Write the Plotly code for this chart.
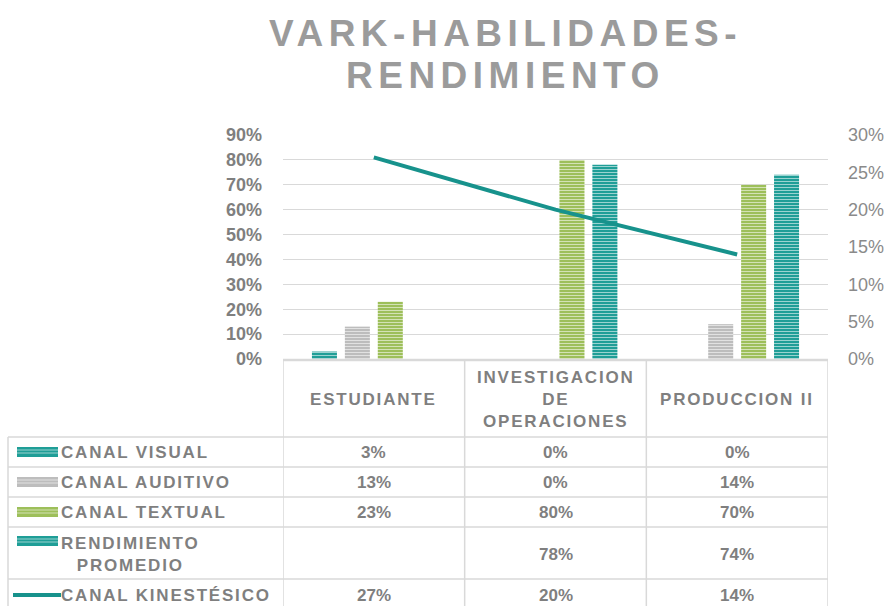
import plotly.graph_objects as go

# datos del grafico
categorias = ["ESTUDIANTE", "INVESTIGACION<br>DE<br>OPERACIONES", "PRODUCCION II"]
canal_visual = [0.03, 0.00, 0.00]
canal_auditivo = [0.13, 0.00, 0.14]
canal_textual = [0.23, 0.80, 0.70]
rendimiento_promedio = [None, 0.78, 0.74]
canal_kinestesico = [0.27, 0.20, 0.14]

series_barras = [
    ("CANAL VISUAL", canal_visual, "#1f9e97"),
    ("CANAL AUDITIVO", canal_auditivo, "#bdbdbd"),
    ("CANAL TEXTUAL", canal_textual, "#9dbf5a"),
    ("RENDIMIENTO<br>PROMEDIO", rendimiento_promedio, "#1f9e97"),
]
color_linea = "#17928c"

ticks_izq = [0, 0.1, 0.2, 0.3, 0.4, 0.5, 0.6, 0.7, 0.8, 0.9]
ticks_der = [0, 0.05, 0.10, 0.15, 0.20, 0.25, 0.30]

FONT = "Arial, Liberation Sans, sans-serif"
GRIS = "#7f7f7f"
BORDE = "#d9d9d9"

W, H = 887, 606
# caja del grafico en pixeles de la imagen
L, R, T, B = 283, 828, 135, 359


def px_x(px):
    return (px - L) / (R - L)


def px_y(py):
    return (B - py) / (B - T)


def espaciado(txt, s):
    return "<span style='letter-spacing:%spx'>%s</span>" % (s, txt)


fig = go.Figure()

for nombre, valores, color in series_barras:
    fig.add_trace(go.Bar(
        x=list(range(len(categorias))),
        y=valores,
        name=nombre,
        marker=dict(
            color=color,
            line=dict(width=0),
            pattern=dict(shape="-", size=3, solidity=0.35,
                         fgcolor="white", fgopacity=0.55, fillmode="overlay"),
        ),
        showlegend=False,
    ))

fig.add_trace(go.Scatter(
    x=list(range(len(categorias))),
    y=canal_kinestesico,
    mode="lines",
    name="CANAL KINESTÉSICO",
    line=dict(color=color_linea, width=4),
    yaxis="y2",
    showlegend=False,
))

shapes = []
annotations = []

# titulo
for linea, yy in (("VARK-HABILIDADES-", 33), ("RENDIMIENTO", 76)):
    annotations.append(dict(
        text=espaciado("<b>%s</b>" % linea, 5.5), x=px_x(505), y=px_y(yy),
        xref="paper", yref="paper", showarrow=False, xanchor="center", yanchor="middle",
        font=dict(family=FONT, size=37, color="#9b9b9b"),
    ))

# tabla de datos
filas_y = [360, 437, 467, 497, 527, 579, 612]
x_izq = 8

# borde superior de la cabecera
shapes.append(dict(type="line", xref="x", yref="paper", x0=-0.5, x1=2.5,
                   y0=px_y(filas_y[0]), y1=px_y(filas_y[0]),
                   line=dict(color=BORDE, width=2.5)))
for yy in filas_y[1:]:
    shapes.append(dict(type="line", xref="paper", yref="paper", x0=px_x(x_izq), x1=1,
                       y0=px_y(yy), y1=px_y(yy), line=dict(color=BORDE, width=1.5)))
for k in range(len(categorias) + 1):
    shapes.append(dict(type="line", xref="x", yref="paper", x0=k - 0.5, x1=k - 0.5,
                       y0=px_y(filas_y[0]), y1=px_y(filas_y[-1]),
                       line=dict(color=BORDE, width=1.5)))
shapes.append(dict(type="line", xref="paper", yref="paper", x0=px_x(x_izq), x1=px_x(x_izq),
                   y0=px_y(filas_y[1]), y1=px_y(filas_y[-1]),
                   line=dict(color=BORDE, width=1.5)))

# cabecera con categorias
for i, c in enumerate(categorias):
    annotations.append(dict(
        text=espaciado("<b>%s</b>" % c, 1.8), x=i, y=px_y(399), xref="x", yref="paper",
        showarrow=False, xanchor="center", yanchor="middle",
        font=dict(family=FONT, size=17, color=GRIS),
    ))

# filas: clave, nombre y valores
nombres = [s[0] for s in series_barras] + ["CANAL KINESTÉSICO"]
valores_filas = [s[1] for s in series_barras] + [canal_kinestesico]
colores = [s[2] for s in series_barras] + [color_linea]
centros = [452, 482, 512, 554, 595]
for j, (nom, vals, col, cy) in enumerate(zip(nombres, valores_filas, colores, centros)):
    ky = 541 if "<br>" in nom else cy
    if j < 4:
        shapes.append(dict(type="rect", xref="paper", yref="paper",
                           x0=px_x(17), x1=px_x(58), y0=px_y(ky - 5), y1=px_y(ky + 5),
                           fillcolor=col, line=dict(width=0)))
        for d in (-2, 1):
            shapes.append(dict(type="line", xref="paper", yref="paper",
                               x0=px_x(17), x1=px_x(58), y0=px_y(ky + d), y1=px_y(ky + d),
                               line=dict(color="rgba(255,255,255,0.55)", width=1)))
    else:
        shapes.append(dict(type="line", xref="paper", yref="paper",
                           x0=px_x(13), x1=px_x(61), y0=px_y(ky), y1=px_y(ky),
                           line=dict(color=col, width=4)))
    annotations.append(dict(
        text=espaciado("<b>%s</b>" % nom, 1.8), x=px_x(59), y=px_y(cy),
        xref="paper", yref="paper", showarrow=False, xanchor="left", yanchor="middle",
        align="center", font=dict(family=FONT, size=17, color=GRIS),
    ))
    for i, v in enumerate(vals):
        if v is None:
            continue
        annotations.append(dict(
            text="<b>%d%%</b>" % round(v * 100), x=i, y=px_y(cy), xref="x", yref="paper",
            showarrow=False, xanchor="center", yanchor="middle",
            font=dict(family=FONT, size=17, color=GRIS),
        ))

fig.update_layout(
    width=W, height=H,
    margin=dict(l=L, r=W - R, t=T, b=H - B, autoexpand=False),
    paper_bgcolor="white", plot_bgcolor="white",
    barmode="group", bargap=0.275, bargroupgap=0.24,
    xaxis=dict(range=[-0.5, 2.5], showticklabels=False, showgrid=False,
               zeroline=False, showline=False, fixedrange=True, automargin=False),
    yaxis=dict(range=[0, 0.9], tickvals=ticks_izq, tickformat=".0%",
               showgrid=True, gridcolor=BORDE, gridwidth=1, zeroline=False,
               ticks="", ticklabelstandoff=20, automargin=False,
               tickfont=dict(family=FONT, size=18, color=GRIS, weight="bold")),
    yaxis2=dict(range=[0, 0.30], tickvals=ticks_der, tickformat=".0%",
                overlaying="y", side="right", showgrid=False, zeroline=False,
                ticks="", ticklabelstandoff=19, automargin=False,
                tickfont=dict(family=FONT, size=18, color="#8a8a8a")),
    shapes=shapes,
    annotations=annotations,
)

# quitar el margen por defecto del body para que la figura llene la ventana
fig.write_html("out.html", config={"displayModeBar": False},
               post_script="document.body.style.margin='0';document.body.style.overflow='hidden';")
